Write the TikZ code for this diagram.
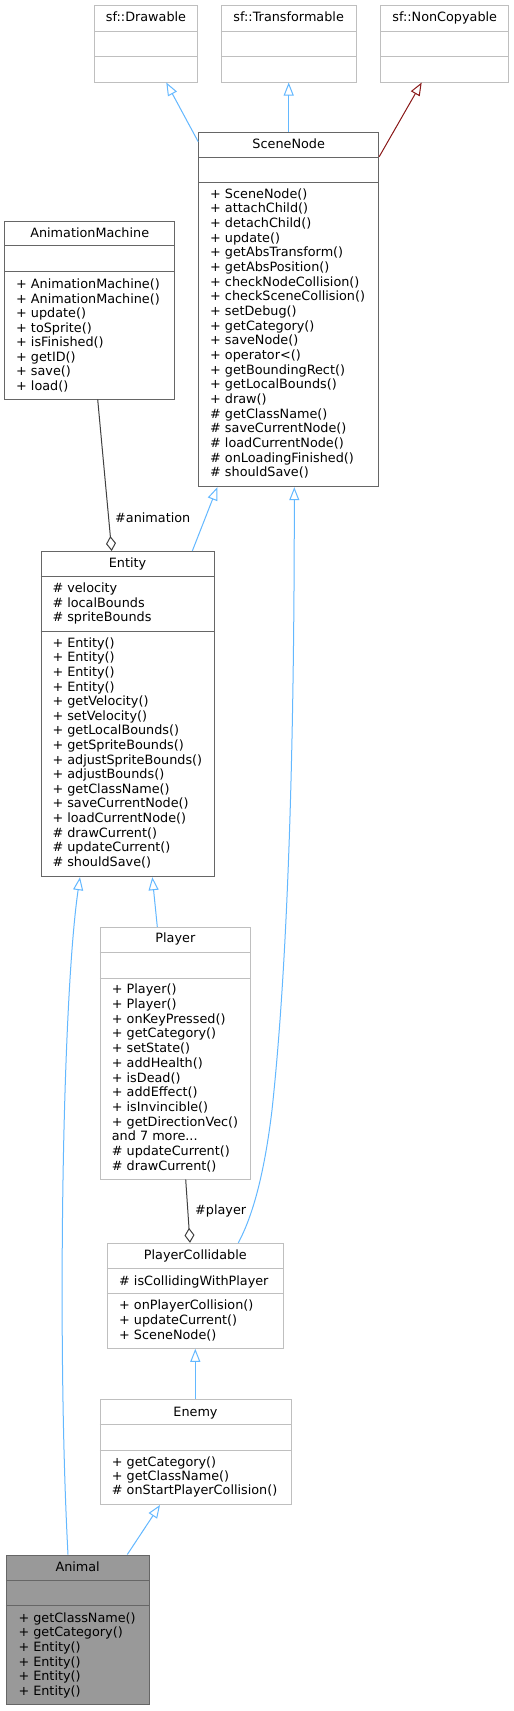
\documentclass[tikz,border=0pt]{standalone}
\usepackage{fontspec}
\setmainfont{DejaVu Sans}
\usetikzlibrary{arrows.meta,fit}
\definecolor{inhblue}{HTML}{63B8FF}
\definecolor{privred}{HTML}{8B1A1A}
\definecolor{agggray}{HTML}{404040}
\definecolor{bordark}{HTML}{666666}
\definecolor{borlight}{HTML}{BFBFBF}
\definecolor{animfill}{HTML}{999999}
\tikzset{
  boxdark/.style={draw=bordark, line width=1pt, inner sep=0pt},
  boxlight/.style={draw=borlight, line width=1pt, inner sep=0pt},
  boxanimal/.style={draw=bordark, fill=animfill, line width=1pt, inner sep=0pt},
  divdark/.style={draw=bordark, line width=1pt},
  divlight/.style={draw=borlight, line width=1pt},
  titletext/.style={anchor=base, inner sep=0pt},
  member/.style={anchor=base west, inner sep=0pt},
  edgelabel/.style={anchor=base west, inner sep=0pt},
  inh/.style={draw=inhblue, line width=1pt, -{Triangle[open, length=13pt, width=10pt]}},
  privinh/.style={draw=privred, line width=1pt, -{Triangle[open, length=13pt, width=10pt]}},
  agg/.style={draw=agggray, line width=1pt, -{Diamond[open, length=15pt, width=10pt]}}
}
\newcommand\hdiv[3]{\draw[#3] (#1.west |- 0,#2) -- (#1.east |- 0,#2);}
\newcommand\members[5]{\foreach \t [count=\i from 0] in {#5} {\node[member] (#1\i) at (#2, {#3+\i*#4}) {\t};}}
\begin{document}
\begin{tikzpicture}[x=1pt, y=-1pt, font=\fontsize{12.8}{15}\selectfont]
\path[use as bounding box, fill=white] (0,0) rectangle (514,1711);

% sf::Drawable
\node[boxlight, fit={(94.7,5.7) (197.3,82)}] (drawable) {};
\hdiv{drawable}{31.7}{divlight}
\hdiv{drawable}{56.7}{divlight}
\node[titletext] (drawable-t) at (drawable.north |- 0,21.8) {sf::Drawable};

% sf::Transformable
\node[boxlight, fit={(221.3,5.7) (356,82)}] (transformable) {};
\hdiv{transformable}{31.7}{divlight}
\hdiv{transformable}{56.7}{divlight}
\node[titletext] (transformable-t) at (transformable.north |- 0,21.8) {sf::Transformable};

% sf::NonCopyable
\node[boxlight, fit={(380.7,5.7) (508.7,82)}] (noncopyable) {};
\hdiv{noncopyable}{31.7}{divlight}
\hdiv{noncopyable}{56.7}{divlight}
\node[titletext] (noncopyable-t) at (noncopyable.north |- 0,21.8) {sf::NonCopyable};

% SceneNode
\node[boxdark, fit={(198.7,132.7) (378.7,486.7)}] (scenenode) {};
\hdiv{scenenode}{157.5}{divdark}
\hdiv{scenenode}{182.7}{divdark}
\node[titletext] (scenenode-t) at (scenenode.north |- 0,148.8) {SceneNode};
\members{scenenode-m}{210}{198.2}{14.66}{+ SceneNode(), + attachChild(), + detachChild(), + update(), + getAbsTransform(), + getAbsPosition(), + checkNodeCollision(), + checkSceneCollision(), + setDebug(), + getCategory(), + saveNode(), + operator<(), + getBoundingRect(), + getLocalBounds(), + draw(), \# getClassName(), \# saveCurrentNode(), \# loadCurrentNode(), \# onLoadingFinished(), \# shouldSave()}

% AnimationMachine
\node[boxdark, fit={(4.7,221) (174.7,399)}] (animmachine) {};
\hdiv{animmachine}{245.3}{divdark}
\hdiv{animmachine}{271.3}{divdark}
\node[titletext] (animmachine-t) at (animmachine.north |- 0,237.2) {AnimationMachine};
\members{animmachine-m}{16}{288.5}{14.53}{+ AnimationMachine(), + AnimationMachine(), + update(), + toSprite(), + isFinished(), + getID(), + save(), + load()}

% Entity
\node[boxdark, fit={(41,551.5) (214,876.7)}] (entity) {};
\hdiv{entity}{576.7}{divdark}
\hdiv{entity}{631}{divdark}
\node[titletext] (entity-t) at (entity.north |- 0,567.2) {Entity};
\members{entity-a}{52.3}{592.8}{14.5}{\# velocity, \# localBounds, \# spriteBounds}
\members{entity-m}{52.3}{647.2}{14.6}{+ Entity(), + Entity(), + Entity(), + Entity(), + getVelocity(), + setVelocity(), + getLocalBounds(), + getSpriteBounds(), + adjustSpriteBounds(), + adjustBounds(), + getClassName(), + saveCurrentNode(), + loadCurrentNode(), \# drawCurrent(), \# updateCurrent(), \# shouldSave()}

% Player
\node[boxlight, fit={(100,927.3) (250.7,1179)}] (player) {};
\hdiv{player}{952.7}{divlight}
\hdiv{player}{978}{divlight}
\node[titletext] (player-t) at (player.north |- 0,942.8) {Player};
\members{player-m}{111.7}{993.8}{14.7}{+ Player(), + Player(), + onKeyPressed(), + getCategory(), + setState(), + addHealth(), + isDead(), + addEffect(), + isInvincible(), + getDirectionVec(), {and 7 more.{}.{}.}, \# updateCurrent(), \# drawCurrent()}

% PlayerCollidable
\node[boxlight, fit={(107.3,1243.3) (283.3,1348.3)}] (playercoll) {};
\hdiv{playercoll}{1268.3}{divlight}
\hdiv{playercoll}{1293.3}{divlight}
\node[titletext] (playercoll-t) at (playercoll.north |- 0,1259.5) {PlayerCollidable};
\members{playercoll-a}{119}{1285.2}{14.85}{\# isCollidingWithPlayer}
\members{playercoll-m}{119}{1309.8}{14.85}{+ onPlayerCollision(), + updateCurrent(), + SceneNode()}

% Enemy
\node[boxlight, fit={(100,1399.3) (291,1504.5)}] (enemy) {};
\hdiv{enemy}{1424.3}{divlight}
\hdiv{enemy}{1450.5}{divlight}
\node[titletext] (enemy-t) at (enemy.north |- 0,1416.2) {Enemy};
\members{enemy-m}{111.7}{1466.2}{14.15}{+ getCategory(), + getClassName(), \# onStartPlayerCollision()}

% Animal
\node[boxanimal, fit={(6.3,1555) (149,1704)}] (animal) {};
\hdiv{animal}{1580.7}{divdark}
\hdiv{animal}{1605.7}{divdark}
\node[titletext] (animal-t) at (animal.north |- 0,1571.2) {Animal};
\members{animal-m}{18.3}{1622.2}{14.6}{+ getClassName(), + getCategory(), + Entity(), + Entity(), + Entity(), + Entity()}

% connectors
\draw[inh] (scenenode.west |- 0,141.7) -- (drawable.south -| 166.3,0);
\draw[inh] (scenenode.north -| 288.7,0) -- (transformable.south -| 288.7,0);
\draw[privinh] (scenenode.east |- 0,156.7) -- (noncopyable.south -| 421.7,0);
\draw[inh] (entity.north -| 192.3,0) -- (scenenode.south -| 217.3,0);
\draw[inh] (playercoll.north -| 238.3,0) .. controls (256,1210) and (266,1160) .. (272,1110)
  .. controls (285,990) and (294.3,800) .. (scenenode.south -| 294.3,0);
\draw[agg] (animmachine.south -| 97.7,0) -- (entity.north -| 111.7,0);
\node[edgelabel] (animlabel) at (115,522.5) {\#animation};
\draw[inh] (player.north -| 157.3,0) -- (entity.south -| 152.3,0);
\draw[agg] (player.south -| 185.7,0) -- (playercoll.north -| 190,0);
\node[edgelabel] (playerlabel) at (195,1214.5) {\#player};
\draw[inh] (enemy.north -| 195.3,0) -- (playercoll.south -| 195.3,0);
\draw[inh] (animal.north -| 127.3,0) -- (enemy.south -| 160,0);
\draw[inh] (animal.north -| 68,0) .. controls (57,1350) and (62,1000) .. (entity.south -| 80,0);
\end{tikzpicture}
\end{document}
